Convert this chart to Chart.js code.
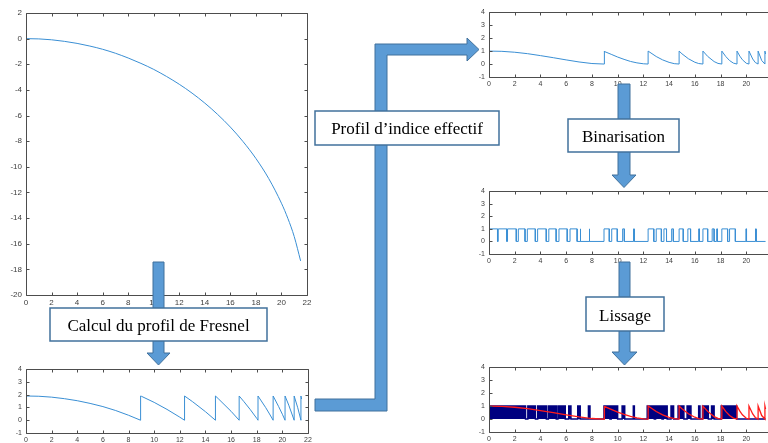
<!DOCTYPE html>
<html>
<head>
<meta charset="utf-8">
<script src="https://cdn.jsdelivr.net/npm/chart.js@4"></script>
<style>
html,body{margin:0;padding:0;background:#fff;}
#page{position:relative;width:768px;height:443px;overflow:hidden;background:#fff;}
canvas{position:absolute;}
svg{position:absolute;left:0;top:0;}
</style>
</head>
<body>
<div id="page">
<canvas id="phase"></canvas>
<canvas id="fresnel"></canvas>
<canvas id="indice"></canvas>
<canvas id="binaire"></canvas>
<canvas id="lissage"></canvas>
<svg width="768" height="443">
  <g fill="#5B9BD5" stroke="#41719C" stroke-width="1">
    <polygon points="315,399 375,399 375,44 467,44 467,38 479,49.5 467,61 467,55 387,55 387,411 315,411"/>
    <polygon points="153,262 164,262 164,353 170,353 158.5,365 147,353 153,353"/>
    <polygon points="618,84 630,84 630,175 636,175 624,187.5 612,175 618,175"/>
    <polygon points="619,262 630,262 630,352 637,352 624.5,365 612,352 619,352"/>
  </g>
  <g fill="#fff" stroke="#41719C" stroke-width="1.5">
    <rect x="50" y="308" width="217" height="33"/>
    <rect x="315" y="111" width="184" height="34"/>
    <rect x="568" y="119" width="111" height="33"/>
    <rect x="586" y="297" width="78" height="34"/>
  </g>
  <g font-family="Liberation Serif" font-size="17" fill="#000" text-anchor="middle">
    <text x="158.5" y="330.5">Calcul du profil de Fresnel</text>
    <text x="407" y="134">Profil d’indice effectif</text>
    <text x="623.5" y="141.5">Binarisation</text>
    <text x="625" y="320.5">Lissage</text>
  </g>
</svg>
</div>
<script>
// axes
const xLimits = [0, 22];
const xStep = 2;
const phaseLimits = [-20, 2];
const smallLimits = [-1, 4];

// profil de phase (lentille)
const phaseX = [0,1,2,3,4,5,6,7,8,9,10,11,12,13,14,15,16,17,18,19,20,20.5,21,21.5];
const phaseY = [0,-0.02,-0.09,-0.21,-0.37,-0.58,-0.83,-1.14,-1.51,-1.93,-2.4,-2.95,-3.56,-4.25,-5.03,-5.91,-6.9,-8.04,-9.35,-10.91,-12.84,-14.02,-15.44,-17.34];

// profil de Fresnel
const fresnelX = [0,1,2,3,4,5,6,7,8,8.94, 8.94,9,10,11,12,12.37, 12.37,13,14,14.78, 14.78,15,16,16.63, 16.63,17,17.5,18,18.1, 18.1,18.7,19,19.28, 19.28,19.7,20,20.21, 20.21,20.5,20.92, 20.92,21.2,21.45, 21.45,21.5];
const fresnelY = [1.9,1.88,1.81,1.69,1.53,1.32,1.07,0.76,0.39,0, 1.9,1.88,1.4,0.85,0.24,0, 1.9,1.45,0.67,0, 1.9,1.69,0.7,0, 1.9,1.46,0.83,0.15,0, 1.9,0.99,0.49,0, 1.9,1.09,0.47,0, 1.9,1.18,0, 1.9,0.98,0, 1.9,1.66];

// profil d'indice effectif
const indiceX = [0,1,2,3,4,5,6,7,8,8.94, 8.94,9,9.5,10,10.5,11,11.5,12,12.37, 12.37,13,13.5,14,14.4,14.78, 14.78,15,15.5,16,16.3,16.63, 16.63,17,17.5,17.8,18.1, 18.1,18.4,18.7,19,19.28, 19.28,19.5,19.7,20,20.21, 20.21,20.5,20.7,20.92, 20.92,21.2,21.45, 21.45,21.5];
const indiceY = [1,0.98,0.91,0.8,0.65,0.49,0.32,0.16,0.04,0, 1,0.97,0.75,0.54,0.36,0.2,0.09,0.02,0, 1,0.58,0.32,0.13,0.03,0, 1,0.79,0.41,0.14,0.04,0, 1,0.59,0.19,0.05,0, 1,0.59,0.27,0.07,0, 1,0.61,0.33,0.06,0, 1,0.39,0.12,0, 1,0.27,0, 1,0.77];

// binarisation : intervalles a 1
const binHigh = [[0,0.66],[0.72,1.38],[1.44,2.12],[2.28,2.8],[2.98,3.6],[3.78,4.45],[4.65,5.22],[5.44,6.08],[6.3,6.85],[7.08,7.13],[7.78,7.83],
  [8.94,9.35],[9.54,9.97],[10.39,10.52],[11.24,11.29],
  [12.37,12.81],[13.0,13.4],[13.6,13.8],[14.2,14.33],
  [14.78,15.1],[15.46,15.67],[16.3,16.36],
  [16.63,17.0],[17.35,17.5],[17.7,17.76],
  [18.1,18.55],[18.7,19.15],
  [19.97,20.02],[20.72,20.77]];

// lissage : intervalles a 1
const lisHigh = [[0,2.84],[3.02,3.61],[3.79,4.46],[4.61,5.23],[5.36,5.93],[6.2,6.37],[6.9,7.09],[7.73,7.85],
  [8.94,9.4],[9.5,10.0],[10.35,10.55],[11.22,11.3],
  [12.3,12.85],[12.95,13.45],[13.55,13.85],[14.15,14.35],
  [14.7,15.15],[15.4,15.7],[16.3,16.4],
  [16.6,17.05],[17.3,17.5],
  [18.05,19.25]];
const stepEnd = 21.5;

const blue = '#3a8fd4';

function zip(xs, ys) { return xs.map((x, i) => ({x: x, y: ys[i]})); }

function stepPoints(intervals, xEnd) {
  const pts = [];
  intervals.forEach(([a, b]) => {
    if (a > 0) pts.push({x: a, y: 0});
    pts.push({x: a, y: 1}, {x: b, y: 1}, {x: b, y: 0});
  });
  pts.push({x: xEnd, y: 0});
  return pts;
}

// cadre + graduations vers l'interieur (style matlab)
const boxTicks = {
  id: 'boxTicks',
  afterDraw(chart) {
    const {ctx, chartArea: a, scales} = chart;
    ctx.save();
    ctx.strokeStyle = '#4d4d4d';
    ctx.lineWidth = 1;
    ctx.beginPath();
    const l = Math.round(a.left) + 0.5, r = Math.round(a.right) + 0.5;
    const t = Math.round(a.top) + 0.5, b = Math.round(a.bottom) + 0.5;
    ctx.rect(l, t, r - l, b - t);
    scales.x.ticks.forEach(tk => {
      const px = Math.round(scales.x.getPixelForValue(tk.value)) + 0.5;
      ctx.moveTo(px, b); ctx.lineTo(px, b - 3);
      ctx.moveTo(px, t); ctx.lineTo(px, t + 3);
    });
    scales.y.ticks.forEach(tk => {
      const py = Math.round(scales.y.getPixelForValue(tk.value)) + 0.5;
      ctx.moveTo(l, py); ctx.lineTo(l + 3, py);
      ctx.moveTo(r, py); ctx.lineTo(r - 3, py);
    });
    ctx.stroke();
    ctx.restore();
  }
};

function makeChart(id, box, plot, yLim, datasets, fs) {
  const c = document.getElementById(id);
  c.width = box[2]; c.height = box[3];
  c.style.left = box[0] + 'px'; c.style.top = box[1] + 'px';
  const yw = plot[0] - box[0];
  const xh = box[1] + box[3] - plot[3];
  const tickFont = {size: fs, family: 'Liberation Sans'};
  return new Chart(c, {
    type: 'line',
    data: {datasets: datasets},
    options: {
      responsive: false,
      animation: false,
      events: [],
      layout: {padding: {left: 0, top: plot[1] - box[1], right: box[0] + box[2] - plot[2], bottom: 0}},
      plugins: {legend: {display: false}, tooltip: {enabled: false}},
      elements: {point: {radius: 0}, line: {borderWidth: 1}},
      scales: {
        x: {
          type: 'linear', min: xLimits[0], max: xLimits[1],
          grid: {display: false, drawTicks: false}, border: {display: false},
          ticks: {stepSize: xStep, padding: 3, font: tickFont, color: '#404040', maxRotation: 0, autoSkip: false},
          afterFit: s => { s.height = xh; }
        },
        y: {
          type: 'linear', min: yLim[0], max: yLim[1],
          grid: {display: false, drawTicks: false}, border: {display: false},
          ticks: {stepSize: yLim[1] - yLim[0] > 10 ? 2 : 1, padding: 4, font: tickFont, color: '#404040', autoSkip: false},
          afterFit: s => { s.width = yw; }
        }
      }
    },
    plugins: [boxTicks]
  });
}

makeChart('phase', [0, 0, 322, 312], [26, 13, 307, 295], phaseLimits, [{
  data: zip(phaseX, phaseY), borderColor: blue, cubicInterpolationMode: 'monotone'
}], 8);

makeChart('fresnel', [0, 361, 322, 82], [26, 369, 308, 433], smallLimits, [{
  data: zip(fresnelX, fresnelY), borderColor: blue
}], 7);

makeChart('indice', [464, 4, 320, 88], [489, 12, 772, 77], smallLimits, [{
  data: zip(indiceX, indiceY), borderColor: blue
}], 7);

makeChart('binaire', [464, 183, 320, 86], [489, 191, 772, 254], smallLimits, [{
  data: stepPoints(binHigh, stepEnd), borderColor: blue
}], 7);

makeChart('lissage', [464, 359, 320, 84], [489, 367, 772, 432], smallLimits, [
  {data: zip(indiceX, indiceY), borderColor: '#ff1a1a', borderWidth: 1.3, order: 1},
  {data: stepPoints(lisHigh, stepEnd), borderColor: '#000080', backgroundColor: '#000080', fill: 'origin', borderWidth: 1.5, order: 2}
], 7);
</script>
</body>
</html>
